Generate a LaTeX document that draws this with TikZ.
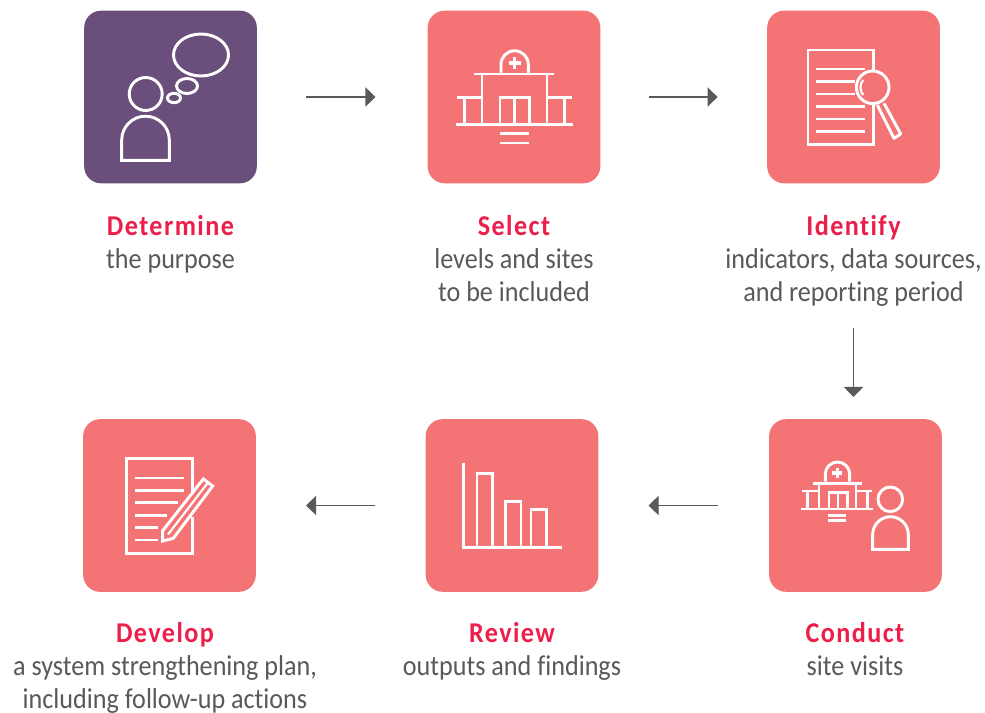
\documentclass[tikz,border=0pt]{standalone}
\usepackage{fontspec}
\setmainfont[FakeStretch=0.912,Ligatures=NoCommon]{Carlito}
\usetikzlibrary{arrows.meta}
\definecolor{salmon}{HTML}{F47374}
\definecolor{plum}{HTML}{6A4E7C}
\definecolor{titlered}{HTML}{EC1F4B}
\definecolor{inkgray}{HTML}{58595B}
\tikzset{
  tile/.style={rounded corners=12.75pt,minimum width=129.5pt,minimum height=129.5pt,inner sep=0pt,fill=salmon},
  icon/.style={draw=white,line width=2.2pt,line cap=butt,line join=miter},
  flow/.style={draw=inkgray,line width=0.9pt,-{Triangle[length=7.5pt,width=14.5pt]},shorten <=36.75pt,shorten >=39pt},
  captiontext/.style={align=center,text=inkgray,font=\fontsize{21.5}{24.75}\selectfont,anchor=north,inner sep=0pt},
}
\newcommand{\hd}[1]{{\addfontfeatures{LetterSpace=5}\bfseries\color{titlered}#1}}
\begin{document}
\begin{tikzpicture}[x=0.75pt,y=-0.75pt]
\useasboundingbox (0,0) rectangle (985,713);
\node[tile,fill=plum] (a) at (170.5,97) {};
\node[tile] (b) at (514,97) {};
\node[tile] (c) at (853.5,97) {};
\node[tile] (d) at (855.5,505.5) {};
\node[tile] (e) at (512,505.5) {};
\node[tile] (f) at (169.5,505.5) {};
\draw[flow] (a) -- (b);
\draw[flow,shorten <=36pt,shorten >=37pt] (b) -- (c);
\draw[flow,shorten <=108pt,shorten >=16.5pt] (c.south) -- (c.south |- d.north);
\draw[flow,shorten <=38.25pt,shorten >=37.5pt] (d) -- (e);
\draw[flow,shorten <=37.5pt,shorten >=37.5pt] (e) -- (f);
% icon 1
\draw[icon] (201,55) ellipse [x radius=27.5,y radius=21];
\draw[icon] (187,86) ellipse [x radius=10.5,y radius=7.5];
\draw[icon] (174,98) ellipse [x radius=6.5,y radius=4.7];
\draw[icon] (145.7,94) circle [radius=16.5];
\draw[icon] (121.7,160.3) -- (121.7,140) arc[start angle=180,end angle=360,x radius=23.8,y radius=23.8] -- (169.3,160.3) -- cycle;
% icon 2
\draw[icon] (501,73.3) -- (501,64.4) arc[start angle=180,end angle=360,x radius=13.65,y radius=13.65] -- (528.3,73.3);
\draw[icon,line width=2.6pt] (508.7,63) -- (520.7,63) (514.7,57) -- (514.7,69);
\draw[icon] (474.3,74) -- (554.3,74) (482,74) -- (482,124.3) (547,74) -- (547,124.3);
\draw[icon] (457,97.3) -- (482,97.3) (547,97.3) -- (572,97.3) (464.3,97.3) -- (464.3,124.3) (564.7,97.3) -- (564.7,124.3);
\draw[icon] (455.7,124.3) -- (573.3,124.3);
\draw[icon] (500,124.3) -- (500,97.3) -- (529.3,97.3) -- (529.3,124.3) (514.7,97.3) -- (514.7,124.3);
\draw[icon] (500,133.7) -- (529,133.7) (500,143) -- (529,143);
% icon 3
\draw[icon] (873.7,70) -- (873.7,50) -- (808,50) -- (808,144.3) -- (873.7,144.3) -- (873.7,104);
\draw[icon] (816,69) -- (865,69) (816,81.3) -- (855,81.3) (816,94) -- (855,94) (816,106.3) -- (865,106.3) (816,119) -- (865,119) (816,131.3) -- (865,131.3);
\draw[icon] (872.7,87.3) circle [radius=16.3];
\draw[icon,line width=1.6pt] (863.3,80) .. controls (859.5,84) and (859.5,91) .. (863.3,95);
\draw[icon,line join=round] (877.3,105) -- (894,138.3) -- (900.7,134) -- (884,103.3);
% icon 4
\draw[icon] (825.3,481.7) -- (825.3,474.2) arc[start angle=180,end angle=360,x radius=12.2,y radius=12.2] -- (849.7,481.7);
\draw[icon,line width=2.4pt] (832.3,473) -- (842.3,473) (837.3,468) -- (837.3,478);
\draw[icon] (813,483.3) -- (861.7,483.3) (819,483.3) -- (819,509) (856,483.3) -- (856,509);
\draw[icon] (802.3,491) -- (819,491) (856,491) -- (872.3,491) (807.7,491) -- (807.7,509) (867.3,491) -- (867.3,509);
\draw[icon] (801.3,509) -- (873.3,509);
\draw[icon] (829,509) -- (829,492.7) -- (847.3,492.7) -- (847.3,509) (838,492.7) -- (838,509);
\draw[icon] (828.3,515.3) -- (846.3,515.3) (828.3,520.7) -- (846.3,520.7);
\draw[icon] (890.3,499.3) circle [radius=12.3];
\draw[icon] (872.7,549.3) -- (872.7,534.5) arc[start angle=180,end angle=360,x radius=17.8,y radius=17.8] -- (908.3,549.3) -- cycle;
% icon 5
\draw[icon] (463.7,462.7) -- (463.7,547.3) -- (562,547.3);
\draw[icon] (477,547.3) -- (477,473.3) -- (492.7,473.3) -- (492.7,547.3);
\draw[icon] (505.7,547.3) -- (505.7,501.7) -- (521,501.7) -- (521,547.3);
\draw[icon] (531,547.3) -- (531,509.3) -- (546.7,509.3) -- (546.7,547.3);
% icon 6
\draw[icon] (192.3,492) -- (192.3,458.7) -- (126.3,458.7) -- (126.3,553.3) -- (192.3,553.3) -- (192.3,517);
\draw[icon] (135,478) -- (183.7,478) (135,490.3) -- (183.7,490.3) (135,502.7) -- (178,502.7) (135,515.3) -- (166.7,515.3) (135,527.7) -- (157.7,527.7) (135,540) -- (157.7,540);
\draw[icon] (162.7,541) -- (162.7,530.7) -- (203.3,479) -- (212.7,486) -- (173.3,538.3) -- cycle;
\draw[icon,line width=1.6pt] (168,534.5) -- (208,482.5);
% captions
\node[captiontext] (ta) at (170.5,215) {\hd{Determine}\\the purpose};
\node[captiontext] (tb) at (514,215) {\hd{Select}\\levels and sites\\to be included};
\node[captiontext] (tc) at (853.5,215) {\hd{Identify}\\indicators, data sources,\\and reporting period};
\node[captiontext] (td) at (855,622) {\hd{Conduct}\\site visits};
\node[captiontext] (te) at (512,622) {\hd{Review}\\outputs and findings};
\node[captiontext] (tf) at (165,622) {\hd{Develop}\\a system strengthening plan,\\including follow-up actions};
\end{tikzpicture}
\end{document}
